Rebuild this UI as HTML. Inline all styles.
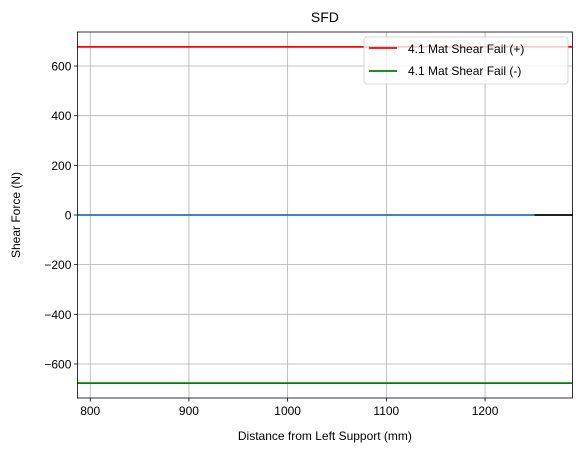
<!DOCTYPE html>
<html><head><meta charset="utf-8"><style>
body{margin:0;background:#fff;}
svg{font-family:"Liberation Sans","DejaVu Sans",sans-serif;}
</style></head><body>
<svg id="chart" width="583" height="453"></svg>
<script>
const xTicks=[800,900,1000,1100,1200];
const yTicks=[-600,-400,-200,0,200,400,600];
const shearX=[787,1250];
const shearY=[0,0];
const beamX=[1250,1289];
const beamY=[0,0];
const failPos=677;
const failNeg=-677;
const xDomain=[787,1288.5];
const yDomain=[-737,737];
const L=77.4,R=572.4,T=32,B=398;
const sx=v=>L+(v-xDomain[0])/(xDomain[1]-xDomain[0])*(R-L);
const sy=v=>B-(v-yDomain[0])/(yDomain[1]-yDomain[0])*(B-T);
const svg=document.getElementById('chart');
const NS='http://www.w3.org/2000/svg';
function mk(tag,attrs,name,parent){const e=document.createElementNS(NS,tag);for(const k in attrs)e.setAttribute(k,attrs[k]);


(parent||svg).appendChild(e);return e;}
xTicks.forEach(v=>{const x=sx(v);
mk('line',{x1:x,x2:x,y1:T,y2:B,stroke:'#b0b0b0','stroke-width':0.8},'x-grid-line');
mk('line',{x1:x,x2:x,y1:B,y2:B+3.5,stroke:'#000','stroke-width':0.8},'x-tick');
const t=mk('text',{x:x,y:B+17,'text-anchor':'middle','font-size':12},'x-tick-label');t.textContent=v;});
yTicks.forEach(v=>{const y=sy(v);
mk('line',{x1:L,x2:R,y1:y,y2:y,stroke:'#b0b0b0','stroke-width':0.8},'y-grid-line');
mk('line',{x1:L-3.5,x2:L,y1:y,y2:y,stroke:'#000','stroke-width':0.8},'y-tick');
const t=mk('text',{x:L-6,y:y+4.5,'text-anchor':'end','font-size':12},'y-tick-label');t.textContent=v.toString().replace('-','\u2212');});
mk('line',{x1:L,x2:R,y1:sy(failPos),y2:sy(failPos),stroke:'red','stroke-width':1.8},'fail-positive-line');
mk('line',{x1:L,x2:R,y1:sy(failNeg),y2:sy(failNeg),stroke:'green','stroke-width':1.8},'fail-negative-line');
mk('line',{x1:sx(beamX[0]),x2:sx(beamX[1]),y1:sy(beamY[0]),y2:sy(beamY[1]),stroke:'#000','stroke-width':1.8},'beam-line');
mk('line',{x1:sx(shearX[0]),x2:sx(shearX[1]),y1:sy(shearY[0]),y2:sy(shearY[1]),stroke:'#1f77b4','stroke-width':1.8},'shear-line');
mk('rect',{x:L,y:T,width:R-L,height:B-T,fill:'none',stroke:'#000','stroke-width':0.8},'plot-frame');
const lg=mk('g',{},'legend');
mk('rect',{x:364,y:37,width:204,height:47,rx:3,fill:'#fff','fill-opacity':0.8,stroke:'#ccc','stroke-width':0.8},'legend-box',lg);
mk('line',{x1:369,x2:397,y1:48,y2:48,stroke:'red','stroke-width':1.8},'legend-swatch-positive',lg);
let t=mk('text',{x:408,y:53,'font-size':12},'legend-entry-positive',lg);t.textContent='4.1 Mat Shear Fail (+)';
mk('line',{x1:369,x2:397,y1:71,y2:71,stroke:'green','stroke-width':1.8},'legend-swatch-negative',lg);
t=mk('text',{x:408,y:75,'font-size':12},'legend-entry-negative',lg);t.textContent='4.1 Mat Shear Fail (-)';
t=mk('text',{x:(L+R)/2,y:22,'text-anchor':'middle','font-size':14},'chart-title');t.textContent='SFD';
t=mk('text',{x:(L+R)/2,y:440,'text-anchor':'middle','font-size':12},'x-axis-title');t.textContent='Distance from Left Support (mm)';
t=mk('text',{x:20,y:215,'text-anchor':'middle','font-size':12,transform:'rotate(-90 20 215)'},'y-axis-title');t.textContent='Shear Force (N)';
</script>
</body></html>
